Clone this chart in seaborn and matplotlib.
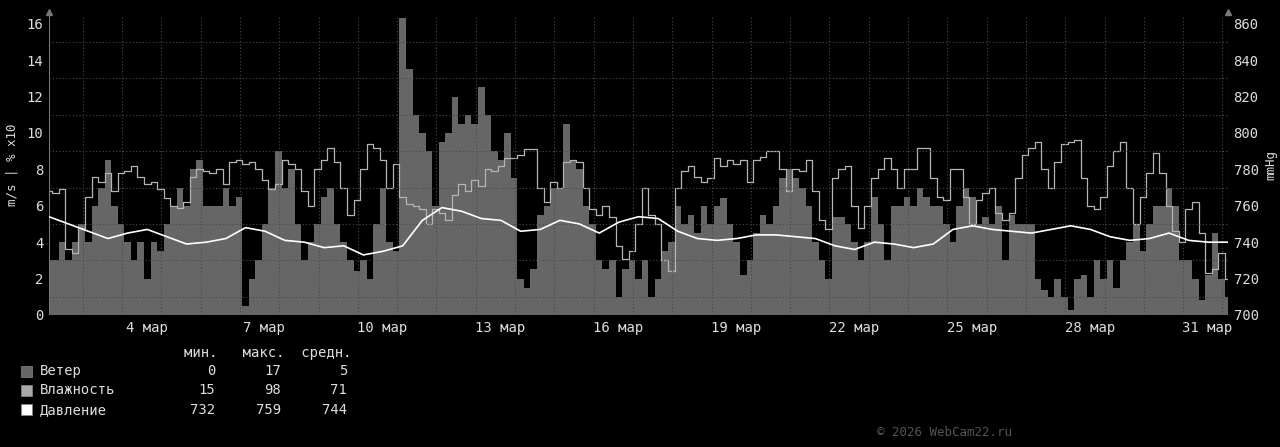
import numpy as np
import pandas as pd
import seaborn as sns
import matplotlib.pyplot as plt

# 30 days, wind & humidity every 4 h, pressure every 12 h (x in day-of-March)
start_day = 2.14
wind = [3, 3, 4, 3, 4, 5, 4, 6, 7, 8.5, 6, 5, 4, 3, 4, 2, 4, 3.5, 5, 6,
        7, 6, 8, 8.5, 6, 6, 6, 7, 6, 6.5, 0.5, 2, 3, 5, 7, 9, 7, 8, 5, 3,
        4, 5, 6.5, 7, 5, 4, 3, 2.4, 3, 2, 5, 7, 4, 3.5, 16.3, 13.5, 11, 10, 9, 6,
        9.5, 10, 12, 10.5, 11, 10.5, 12.5, 11, 9, 8.5, 10, 7.5, 2, 1.5, 2.5, 5.5, 6, 7, 7, 10.5,
        8.5, 8, 6, 5, 3, 2.5, 3, 1, 2.5, 3, 2, 3, 1, 2, 3.5, 4, 6, 5, 5.5, 4.5,
        6, 5, 6, 6.4, 5, 4, 2.2, 3, 4.5, 5.5, 5, 6, 7.5, 8, 7.5, 7, 6, 4, 3, 2,
        5.4, 5.4, 5, 4, 3, 4, 6.5, 5, 3, 6, 6, 6.5, 6, 7, 6.5, 6, 6, 5, 4, 6,
        7, 6.5, 5, 5.4, 5, 6, 3, 5.5, 5, 5, 5, 2, 1.4, 1, 2, 1, 0.3, 2, 2.2, 1,
        3, 2, 3, 1.5, 3, 4, 5, 3.5, 5, 6, 6, 7, 6, 3, 3, 2, 0.8, 2.2, 4.5, 2, 1]
humidity = [6.8, 6.7, 6.9, 3.6, 3.4, 4.8, 6.5, 7.6, 7.3, 7.8, 6.8, 7.8, 7.9, 8.2, 7.6, 7.2, 7.3, 6.9, 6.4, 6.0,
            5.9, 6.2, 7.6, 8.0, 7.9, 7.8, 8.0, 7.2, 8.4, 8.5, 8.3, 8.4, 8.0, 7.4, 6.9, 7.2, 8.5, 8.3, 8.0, 6.8,
            6.0, 8.0, 8.5, 9.2, 8.4, 7.0, 5.5, 6.3, 8.0, 9.4, 9.2, 8.5, 7.0, 8.3, 6.5, 6.1, 6.0, 5.8, 5.0, 5.8,
            5.6, 5.2, 6.6, 7.2, 6.8, 7.4, 7.1, 8.0, 7.9, 8.2, 8.6, 8.6, 8.8, 9.1, 9.1, 7.0, 6.2, 7.3, 7.0, 8.4,
            8.5, 8.4, 7.0, 5.8, 5.5, 6.0, 5.4, 3.8, 3.1, 3.5, 5.0, 7.0, 5.5, 5.0, 3.0, 2.4, 7.0, 7.9, 8.2, 7.6,
            7.3, 7.5, 8.6, 8.2, 8.5, 8.3, 8.5, 7.3, 8.5, 8.7, 9.0, 9.0, 8.0, 6.8, 8.0, 7.9, 8.5, 6.8, 5.2, 4.7,
            7.5, 8.0, 8.2, 6.0, 4.8, 6.0, 7.5, 8.0, 8.6, 8.0, 7.0, 8.0, 8.0, 9.2, 9.2, 7.5, 6.5, 6.3, 8.0, 8.0,
            6.5, 5.0, 6.3, 6.7, 7.0, 5.6, 5.2, 5.6, 7.5, 8.8, 9.2, 9.5, 8.0, 7.0, 8.4, 9.4, 9.5, 9.6, 7.5, 6.0,
            5.8, 6.5, 8.2, 9.0, 9.5, 7.0, 5.0, 6.5, 7.8, 8.9, 7.8, 6.0, 4.6, 4.0, 5.8, 6.2, 4.5, 2.3, 2.5, 3.4, 2.0]
pressure = [754, 750, 746, 742, 745, 747, 743, 739, 740, 742, 748, 746, 741, 740, 737, 738, 733, 735, 738, 752,
            759, 757, 753, 752, 746, 747, 752, 750, 745, 751, 754, 753, 746, 742, 741, 742, 744, 744, 743, 742,
            738, 736, 740, 739, 737, 739, 747, 749, 747, 746, 745, 747, 749, 747, 743, 741, 742, 745, 741, 740, 740]
day_ticks = [4, 7, 10, 13, 16, 19, 22, 25, 28, 31]
tick_labels = [f"{d} мар" for d in day_ticks]
legend_names = ["Ветер", "Влажность", "Давление"]
legend_stats = [(0, 17, 5), (15, 98, 71), (732, 759, 744)]

df = pd.DataFrame({"day": start_day + np.arange(len(wind)) / 6,
                   "wind": wind, "humidity": humidity})
dp = pd.DataFrame({"day": start_day + np.arange(len(pressure)) / 2,
                   "pressure": pressure})

sns.set_style("dark")
plt.rcParams["font.family"] = ["DejaVu Sans Mono"]
fig = plt.figure(figsize=(12.8, 4.47), dpi=100, facecolor="black")
ax = fig.add_axes([49 / 1280, 132 / 447, 1179 / 1280, 300 / 447], facecolor="black")

c_wind, c_hum, c_grid, c_txt = "#666666", "#b4b4b4", "#4a4a4a", "#dddddd"
ax.fill_between(df["day"], 0, df["wind"], color=c_wind, lw=0, step="mid")
sns.lineplot(data=df, x="day", y="humidity", ax=ax, color=c_hum, lw=0.9, drawstyle="steps-mid")

ax2 = ax.twinx()
sns.lineplot(data=dp, x="day", y="pressure", ax=ax2, color="white", lw=1.2)

ax.set_xlim(start_day, start_day + 30)
ax.set_ylim(0, 16.48)
ax2.set_ylim(700, 864.8)

ax.set_yticks(range(0, 17, 2))
ax.set_yticks(range(0, 17), minor=True)
ax.set_xticks(np.arange(3, 33), minor=True)
ax.set_xticks([d + 0.62 for d in day_ticks])
ax.set_xticklabels(tick_labels)
ax2.set_yticks(range(700, 861, 20))
for a in (ax, ax2):
    a.tick_params(colors=c_txt, labelsize=10, length=0, which="both", pad=4)
    for s in a.spines.values():
        s.set_visible(False)
    a.set_xlabel("")
ax.grid(False)
ax2.grid(False)
ax.grid(True, which="minor", color=c_grid, ls=(0, (1, 2)), lw=0.8)
ax.set_axisbelow(False)
ax.set_ylabel("m/s | % x10", color=c_txt, fontsize=9, labelpad=6)
ax2.set_ylabel("mmHg", color=c_txt, fontsize=9, labelpad=4)
ax.axhline(0, color="#777777", lw=0.8)
ax.axvline(start_day, color="#777777", lw=0.8)
ax2.axvline(start_day + 30, color="#777777", lw=0.8)
ax.plot([0, 1], [1.01, 1.01], transform=ax.transAxes, marker="^", ls="none",
        color="#777777", ms=4, clip_on=False)

# legend block
fig.text(184 / 1280, 1 - 353 / 447, "мин.   макс.  средн.", color=c_txt, fontsize=10, va="center")
sq_colors = [c_wind, "#aaaaaa", "white"]
for i, (name, st) in enumerate(zip(legend_names, legend_stats)):
    y = 1 - (371 + 19.3 * i) / 447
    fig.patches.append(plt.Rectangle((21 / 1280, y - 5.5 / 447), 11 / 1280, 11 / 447,
                                     transform=fig.transFigure, color=sq_colors[i],
                                     ec="#888888", lw=0.5))
    fig.text(40 / 1280, y, name, color=c_txt, fontsize=10, va="center")
    for j, v in enumerate(st):
        fig.text((215 + 66 * j) / 1280, y, str(v), color=c_txt, fontsize=10,
                 va="center", ha="right")
fig.text(1012 / 1280, 1 - 433 / 447, "© 2026 WebCam22.ru", color="#555555",
         fontsize=9, ha="right", va="center")

fig.savefig("out.png", dpi=100, facecolor="black")
